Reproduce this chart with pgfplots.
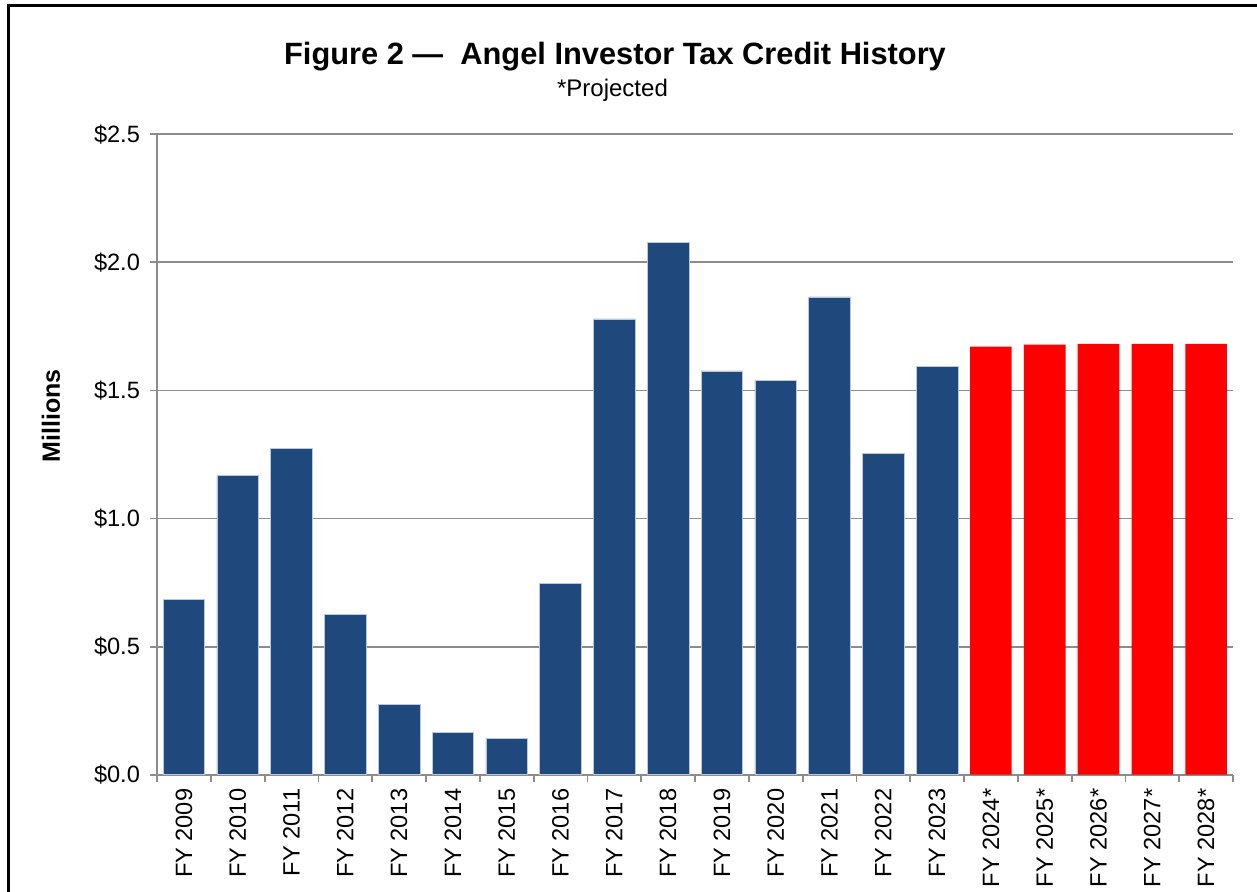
\documentclass[border=0pt]{standalone}
\usepackage{pgfplots}
\pgfplotsset{compat=1.18}
\usepackage{fontspec}
\setmainfont{Liberation Sans}
\definecolor{barblue}{HTML}{1F497D}
\definecolor{gridgray}{HTML}{8C8C8C}
\begin{document}
\begin{tikzpicture}
\useasboundingbox (0,0) rectangle (628.5pt,-446pt);
\draw[black, line width=1.35pt] (4.35pt,-2.65pt) rectangle (633pt,-451pt);
\node[anchor=base, font=\fontsize{15.4}{18}\selectfont\bfseries] at (307.5pt,-32.5pt) {Figure 2 —\ \ Angel Investor Tax Credit History};
\node[anchor=base, font=\fontsize{12}{14}\selectfont] at (306.25pt,-48.5pt) {*Projected};
\node[rotate=90, font=\fontsize{12.5}{15}\selectfont\bfseries] at (25.5pt,-207.9pt) {Millions};
\begin{axis}[
  at={(78.5pt,-387.35pt)}, anchor=south west,
  scale only axis, width=538pt, height=320.2pt,
  xmin=-0.5, xmax=19.5, ymin=0, ymax=2.5,
  axis x line*=bottom, axis y line*=left,
  axis line style={-, gridgray, line width=0.9pt},
  tick align=outside, major tick length=3.5pt,
  tick style={gridgray, line width=0.9pt},
  ytick={0,0.5,1,1.5,2,2.5},
  yticklabels={\$0.0,\$0.5,\$1.0,\$1.5,\$2.0,\$2.5},
  ymajorgrids, grid style={gridgray, line width=0.9pt},
  xtick={-0.5,0.5,1.5,2.5,3.5,4.5,5.5,6.5,7.5,8.5,9.5,10.5,11.5,12.5,13.5,14.5,15.5,16.5,17.5,18.5,19.5},
  x tick label as interval,
  xticklabels={FY 2009,FY 2010,FY 2011,FY 2012,FY 2013,FY 2014,FY 2015,FY 2016,FY 2017,FY 2018,FY 2019,FY 2020,FY 2021,FY 2022,FY 2023,FY 2024*,FY 2025*,FY 2026*,FY 2027*,FY 2028*},
  xticklabel style={font=\fontsize{11.8}{13}\selectfont, rotate=90, anchor=east},
  yticklabel style={font=\fontsize{11.8}{13}\selectfont, xshift=-1.5pt},
]
\addplot[ybar, bar width=20.8pt, bar shift=0pt, fill=barblue, draw=barblue!30!white, line width=0.4pt] coordinates {
(0,0.684) (1,1.168) (2,1.273) (3,0.624) (4,0.275) (5,0.166) (6,0.142) (7,0.746)
(8,1.779) (9,2.077) (10,1.576) (11,1.539) (12,1.865) (13,1.253) (14,1.595)};
\addplot[ybar, bar width=20.8pt, bar shift=0pt, fill=red, draw=none] coordinates {
(15,1.671) (16,1.679) (17,1.682) (18,1.682) (19,1.682)};
\end{axis}
\end{tikzpicture}
\end{document}
